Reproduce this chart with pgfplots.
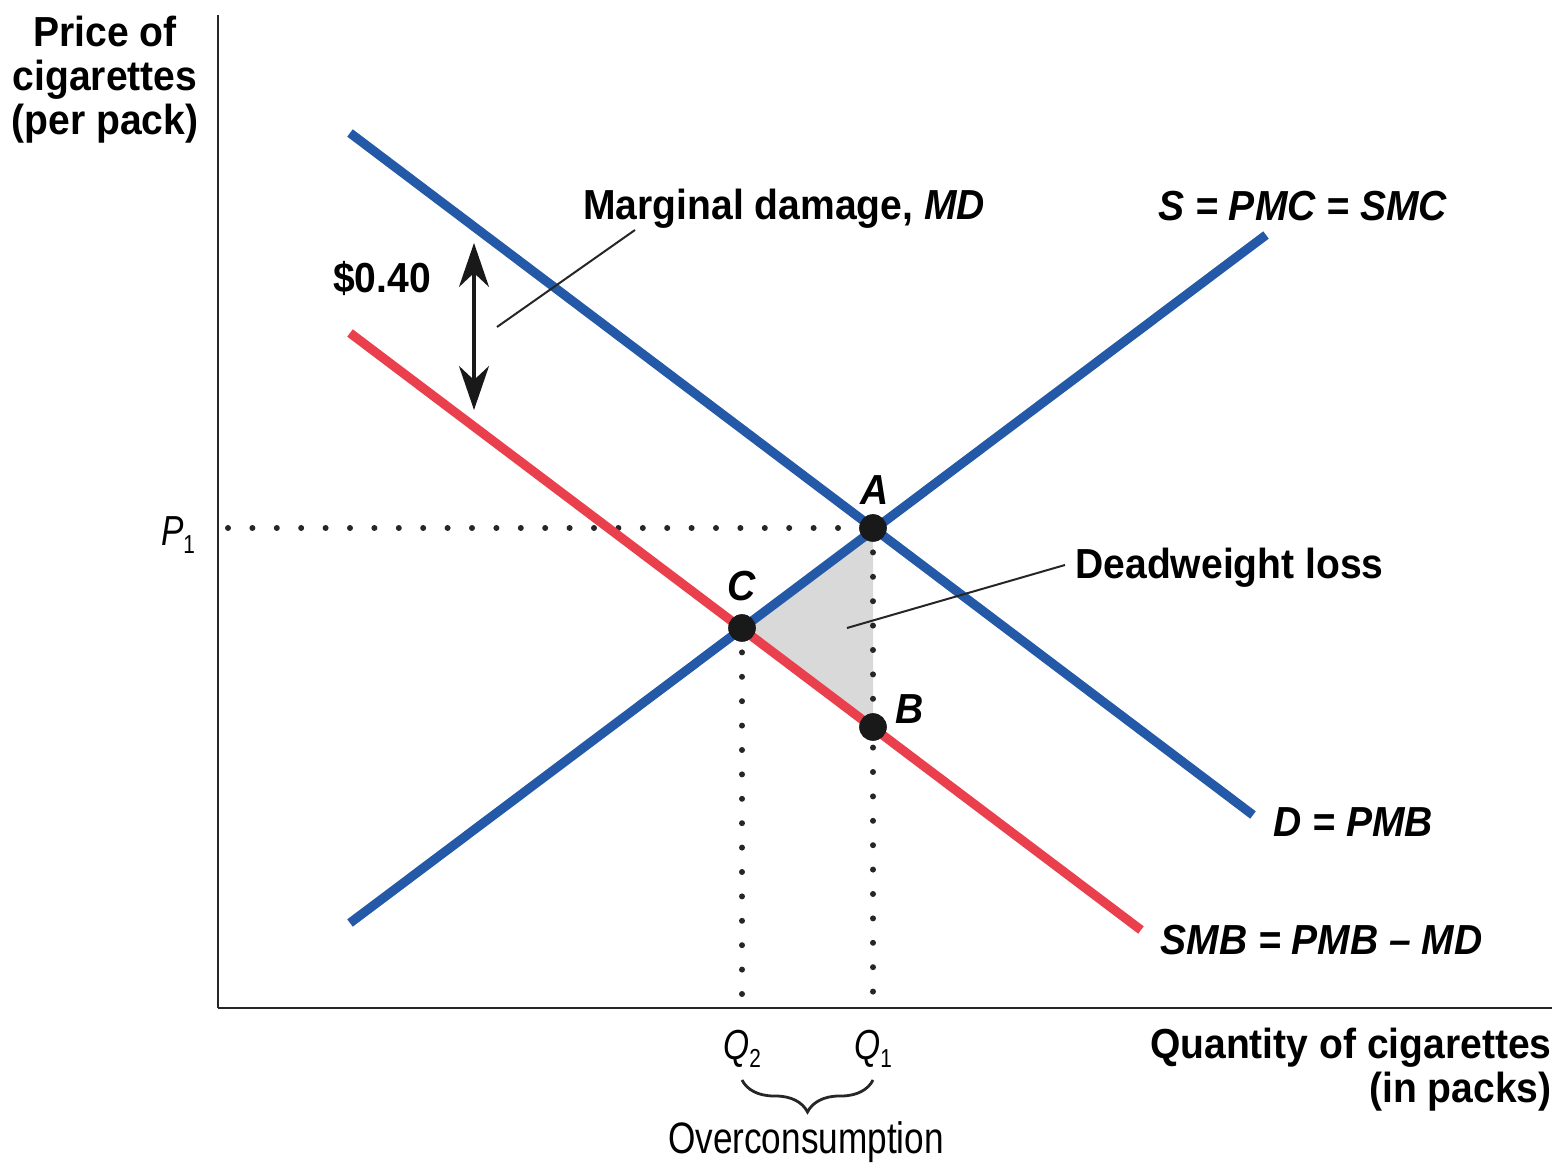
\documentclass[border=0pt]{standalone}
\usepackage{fontspec}
\setmainfont{Liberation Sans}[FakeStretch=0.93]
\newfontfamily\lightfont{Liberation Sans}[FakeStretch=0.8]
\usepackage{pgfplots}
\pgfplotsset{compat=1.18}
\usetikzlibrary{arrows.meta,decorations.pathreplacing}
\definecolor{cblue}{RGB}{36,89,168}
\definecolor{cred}{RGB}{234,64,77}
\newcommand{\fs}{\fontsize{21}{22}\selectfont}
\begin{document}
\begin{tikzpicture}
\begin{axis}[x=0.5pt,y=0.5pt,xmin=218,xmax=1552,ymin=150,ymax=1143,
  scale only axis, axis lines=left, axis line style={-,line width=1.3pt,black!85},
  xtick=\empty, ytick=\empty, clip=false]
\path (axis cs:0,0) (axis cs:1561,1158);
% deadweight loss triangle
\addplot[fill=black!15, draw=none] coordinates {(742,530)(873,630)(873,431)} -- cycle;
% dotted guide lines
\addplot[black!85, line width=3pt, line cap=round, dash pattern=on 0pt off 12.2pt] coordinates {(228,630)(873,630)};
\addplot[black!85, line width=3pt, line cap=round, dash pattern=on 0pt off 12.2pt] coordinates {(742,530)(742,156)};
\addplot[black!85, line width=3pt, line cap=round, dash pattern=on 0pt off 12.2pt] coordinates {(873,630)(873,156)};
% curves
\addplot[cred, line width=4.6pt] coordinates {(350,825)(1141,228)};
\addplot[cblue, line width=4.6pt] coordinates {(350,1025)(1253,343)};
\addplot[cblue, line width=4.6pt] coordinates {(350,235)(1266,923)};
% points
\addplot[only marks, mark=*, mark size=6.7pt, black!90] coordinates {(873,630)(742,530)(873,431)};
% MD arrow
\addplot[black!90, line width=1.6pt, {Stealth[length=22pt,width=15pt,inset=7pt]}-{Stealth[length=22pt,width=15pt,inset=7pt]}] coordinates {(474,915)(474,748)};
% leader lines
\addplot[black!85, line width=1pt] coordinates {(635,928)(497,831)};
\addplot[black!85, line width=1pt] coordinates {(1065,593)(847,530)};
% brace
\draw[black!85, line width=1.4pt, decorate, decoration={brace, mirror, amplitude=16pt}] (axis cs:742,78) -- (axis cs:873,78);
% labels
\node[inner sep=0pt, align=center, font=\fs\bfseries] at (axis cs:105,1078) {Price of\\cigarettes\\(per pack)};
\node[inner sep=0pt, anchor=west, font=\fs\bfseries] at (axis cs:583,949) {Marginal damage, \textit{MD}};
\node[inner sep=0pt, font=\fs\bfseries] at (axis cs:382,880) {\$0.40};
\node[inner sep=0pt, anchor=west, font=\fs\bfseries\itshape] at (axis cs:1158,952) {S = PMC = SMC};
\node[inner sep=0pt, font=\fs\bfseries\itshape] at (axis cs:875,668) {A};
\node[inner sep=0pt, font=\fs\bfseries\itshape] at (axis cs:742,572) {C};
\node[inner sep=0pt, font=\fs\bfseries\itshape] at (axis cs:910,449) {B};
\node[inner sep=0pt, anchor=west, font=\fs\bfseries] at (axis cs:1075,590) {Deadweight loss};
\node[inner sep=0pt, anchor=west, font=\fs\bfseries\itshape] at (axis cs:1273,336) {D = PMB};
\node[inner sep=0pt, anchor=west, font=\fs\bfseries\itshape] at (axis cs:1160,218) {SMB = PMB -- MD};
\node[inner sep=0pt, anchor=east, align=right, font=\fs\bfseries] at (axis cs:1552,88) {Quantity of cigarettes\\(in packs)};
\node[inner sep=0pt, font=\fs\lightfont] at (axis cs:742,109) {\textit{Q}\raisebox{-0.35ex}{\fontsize{13}{13}\selectfont 2}};
\node[inner sep=0pt, font=\fs\lightfont] at (axis cs:873,109) {\textit{Q}\raisebox{-0.35ex}{\fontsize{13}{13}\selectfont 1}};
\node[inner sep=0pt, font=\fs\lightfont] at (axis cs:178,623) {\textit{P}\raisebox{-0.35ex}{\fontsize{13}{13}\selectfont 1}};
\node[inner sep=0pt, font=\fontsize{22}{22}\selectfont\lightfont] at (axis cs:806,16) {Overconsumption};
\end{axis}
\end{tikzpicture}
\end{document}
